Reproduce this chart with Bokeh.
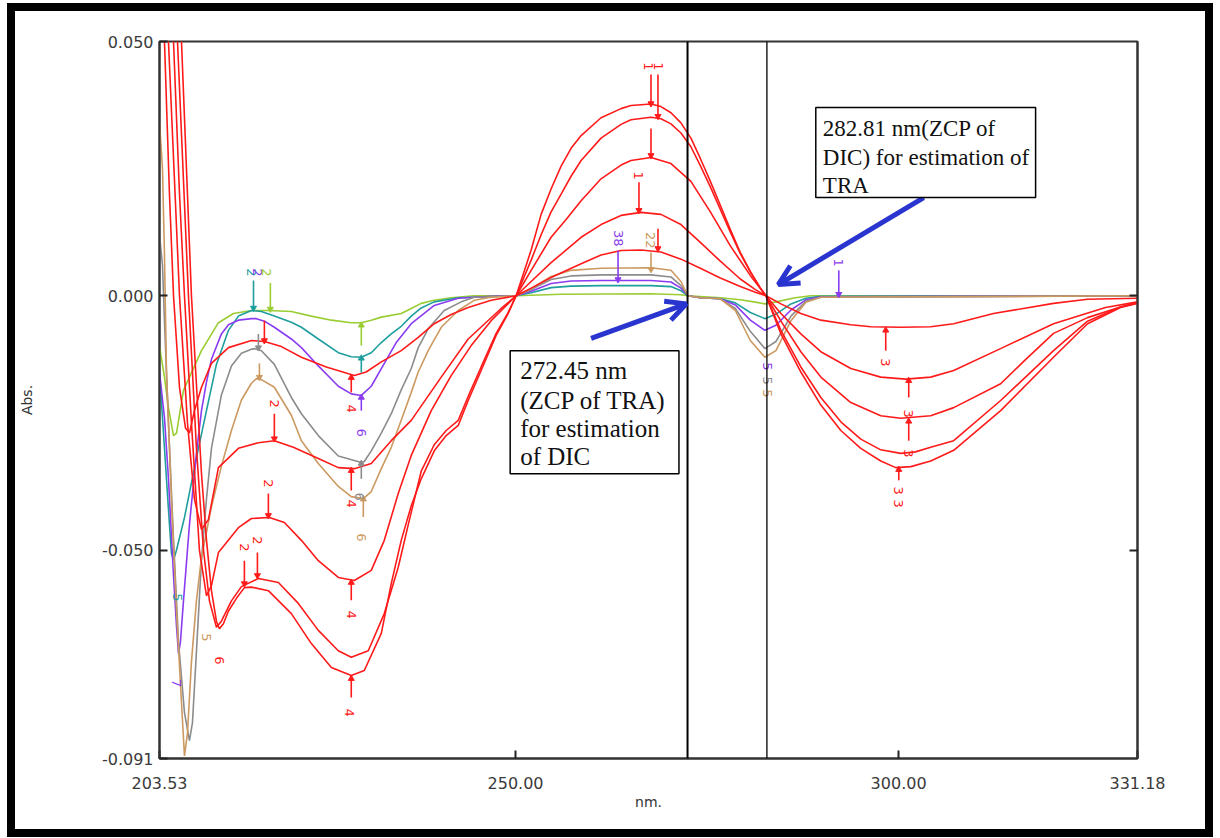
import math
from bokeh.plotting import figure
from bokeh.models import (Range1d, FixedTicker, PrintfTickFormatter, LinearAxis, Span,
                          BoxAnnotation, Label, Arrow, OpenHead)
from bokeh.core.properties import value
from bokeh.embed import file_html
from bokeh.resources import INLINE

# ---------------- data (wavelength nm, absorbance) ----------------
x_ticks = [203.53, 250.00, 300.00, 331.18]
y_ticks = [-0.091, -0.050, 0.000, 0.050]
zcp_tra = 272.45
zcp_dic = 282.81

tan_curve = [(203.53, 0.034), (203.92, 0.025), (204.18, 0.008), (204.44, -0.015), (205.09, -0.040),
             (205.75, -0.062), (206.40, -0.080), (206.79, -0.0905), (207.18, -0.086), (207.70, -0.072),
             (208.35, -0.060), (209.01, -0.0515), (210.31, -0.0415), (211.61, -0.0335), (212.92, -0.0265),
             (214.22, -0.0205), (215.53, -0.0172), (216.18, -0.0163), (216.83, -0.0165), (218.52, -0.0180),
             (220.74, -0.0235), (222.05, -0.0285), (224.26, -0.0330), (226.87, -0.0375), (228.56, -0.0395),
             (230.13, -0.0399), (231.17, -0.0385), (232.48, -0.0340), (233.78, -0.0298), (235.08, -0.0245),
             (236.39, -0.0190), (237.30, -0.0150), (238.60, -0.0108), (240.30, -0.0062), (242.52, -0.0029),
             (244.60, -0.0009), (246.82, -0.0003), (250.08, 0.0), (252.04, 0.0014), (254.64, 0.0038),
             (257.25, 0.0050), (261.16, 0.0054), (267.68, 0.0055), (270.29, 0.0050), (271.59, 0.0028),
             (272.50, 0.0), (274.12, -0.0004), (276.73, -0.0006), (278.69, -0.0029), (280.64, -0.0088),
             (282.55, -0.0121), (283.99, -0.0108), (285.95, -0.0049), (287.90, -0.0013), (289.85, -0.0003),
             (331.18, 0.0)]

grey_curve = [(203.53, 0.012), (203.92, 0.006), (204.18, -0.005), (204.70, -0.025), (205.36, -0.048),
              (206.01, -0.068), (206.79, -0.082), (207.44, -0.0875), (207.83, -0.084), (208.35, -0.070),
              (209.01, -0.052), (209.66, -0.040), (210.31, -0.030), (211.61, -0.0195), (212.92, -0.0138),
              (214.22, -0.0113), (215.53, -0.0105), (216.00, -0.0104), (216.83, -0.0108), (218.52, -0.0135),
              (220.74, -0.0200), (222.05, -0.0232), (224.26, -0.0275), (226.87, -0.0315), (229.87, -0.0328),
              (230.26, -0.0326), (231.17, -0.0305), (232.48, -0.0270), (233.78, -0.0232), (235.08, -0.0185),
              (236.39, -0.0143), (237.30, -0.0102), (238.60, -0.0065), (240.69, -0.0029), (242.91, -0.0012),
              (244.60, -0.0003), (250.08, 0.0), (252.04, 0.0012), (254.64, 0.0032), (257.25, 0.0039),
              (261.16, 0.0041), (267.68, 0.0041), (270.29, 0.0037), (271.59, 0.0020), (272.50, 0.0),
              (274.12, -0.0004), (276.73, -0.0006), (278.69, -0.0025), (280.64, -0.0070), (282.55, -0.0104),
              (283.99, -0.0090), (285.95, -0.0040), (287.90, -0.0011), (289.85, -0.0003), (331.18, 0.0)]

purple_curve = [(203.53, -0.015), (204.18, -0.024), (204.70, -0.036), (205.36, -0.055), (205.75, -0.065),
                (206.01, -0.0704), (206.27, -0.068), (206.66, -0.060), (207.44, -0.045), (208.35, -0.031),
                (209.01, -0.0226), (209.66, -0.0170), (210.31, -0.0125), (211.61, -0.0075), (212.53, -0.0057),
                (213.83, -0.0048), (215.53, -0.0045), (216.18, -0.0045), (217.22, -0.0050), (218.52, -0.0062),
                (220.74, -0.0085), (222.05, -0.0102), (224.26, -0.0138), (226.87, -0.0178), (228.56, -0.0193),
                (229.87, -0.0196), (231.17, -0.0178), (232.87, -0.0133), (234.43, -0.0092), (236.39, -0.0055),
                (239.39, -0.0019), (242.52, -0.0005), (246.82, -0.0001), (250.08, 0.0), (252.04, 0.0009),
                (254.64, 0.0024), (257.25, 0.0029), (261.16, 0.0030), (267.68, 0.0030), (270.29, 0.0027),
                (271.59, 0.0015), (272.50, 0.0), (274.12, -0.0004), (276.73, -0.0006), (278.69, -0.0018),
                (280.64, -0.0048), (282.55, -0.0068), (283.99, -0.0058), (285.95, -0.0028), (287.90, -0.0008),
                (289.85, -0.0002), (331.18, 0.0)]

teal_curve = [(203.53, -0.015), (204.18, -0.030), (204.70, -0.042), (205.09, -0.0507), (205.36, -0.0520),
              (205.75, -0.0500), (206.79, -0.0436), (208.61, -0.0300), (209.66, -0.0226), (210.96, -0.0135),
              (212.53, -0.0068), (213.83, -0.0040), (215.53, -0.0029), (216.83, -0.0031), (218.52, -0.0040),
              (220.74, -0.0052), (222.05, -0.0062), (224.26, -0.0085), (226.87, -0.0112), (228.56, -0.0120),
              (229.87, -0.0121), (231.17, -0.0112), (232.48, -0.0092), (233.78, -0.0075), (235.08, -0.0060),
              (236.39, -0.0040), (237.69, -0.0024), (239.39, -0.0012), (242.52, -0.0004), (250.08, 0.0),
              (252.04, 0.0006), (254.64, 0.0016), (257.25, 0.0019), (261.16, 0.0020), (267.68, 0.0020),
              (270.29, 0.0018), (271.59, 0.0010), (272.50, 0.0), (274.12, -0.0004), (276.73, -0.0006),
              (278.69, -0.0014), (280.64, -0.0033), (282.55, -0.0045), (283.99, -0.0036), (285.95, -0.0016),
              (287.90, -0.0005), (289.85, -0.0001), (331.18, 0.0)]

green_curve = [(203.53, -0.010), (204.18, -0.016), (204.70, -0.022), (205.36, -0.0275), (205.75, -0.0270),
               (206.66, -0.0186), (209.01, -0.0108), (211.22, -0.0053), (213.18, -0.0035), (215.53, -0.0029),
               (217.74, -0.0029), (220.74, -0.0031), (223.35, -0.0040), (225.96, -0.0048), (228.56, -0.0053),
               (229.87, -0.0053), (231.17, -0.0048), (232.48, -0.0042), (235.08, -0.0035), (236.39, -0.0025),
               (237.69, -0.0015), (239.39, -0.0009), (241.60, -0.0004), (244.60, 0.0), (250.08, 0.0),
               (252.04, 0.0001), (256.00, 0.0003), (267.68, 0.0004), (271.59, 0.0002), (272.50, 0.0),
               (276.73, -0.0004), (279.34, -0.0008), (281.50, -0.0013), (282.55, -0.0016), (284.00, -0.0012),
               (286.50, -0.0004), (288.55, 0.0), (331.18, 0.0)]

red_1 = [(203.53, 0.16), (205.09, 0.10), (206.40, 0.05), (207.70, 0.0), (209.01, -0.035), (209.66, -0.048),
         (210.31, -0.058), (210.96, -0.064), (211.35, -0.0655), (211.87, -0.0645), (212.53, -0.0620),
         (213.57, -0.0595), (214.61, -0.0574), (215.53, -0.0573), (217.74, -0.0580), (220.74, -0.0625),
         (223.35, -0.0684), (225.96, -0.0731), (228.56, -0.0747), (230.26, -0.0737), (232.48, -0.0664),
         (233.78, -0.0566), (235.08, -0.0481), (236.39, -0.0413), (237.69, -0.0360), (239.39, -0.0305),
         (240.95, -0.0275), (242.52, -0.0255), (243.82, -0.0206), (245.51, -0.0147), (247.47, -0.0078),
         (249.03, -0.0035), (250.08, 0.0), (252.04, 0.0090), (253.34, 0.0160), (254.64, 0.0210),
         (255.95, 0.0255), (257.25, 0.0290), (258.56, 0.0315), (261.16, 0.0350), (263.77, 0.0368),
         (265.07, 0.0374), (267.68, 0.0377), (268.98, 0.0372), (270.29, 0.0360), (271.59, 0.0340),
         (272.89, 0.0310), (274.12, 0.0270), (275.43, 0.0225), (276.73, 0.0178), (278.04, 0.0130),
         (279.34, 0.0085), (280.64, 0.0048), (281.95, 0.0015), (282.68, 0.0), (284.64, -0.0075),
         (287.24, -0.0150), (289.85, -0.0215), (292.46, -0.0265), (295.06, -0.0300), (297.67, -0.0325),
         (299.63, -0.0338), (301.60, -0.0336), (304.19, -0.0325), (307.19, -0.0304), (313.32, -0.0226),
         (320.22, -0.0121), (324.66, -0.0055), (328.96, -0.0023), (331.18, -0.0015)]

red_2 = [(203.53, 0.14), (204.83, 0.10), (205.88, 0.05), (207.31, 0.0), (208.35, -0.030), (209.27, -0.050),
         (210.05, -0.060), (210.96, -0.0652), (211.61, -0.0640), (212.92, -0.0600), (214.22, -0.0572),
         (216.44, -0.0556), (219.05, -0.0564), (221.65, -0.0605), (224.26, -0.0658), (226.87, -0.0698),
         (228.56, -0.0711), (230.78, -0.0698), (232.87, -0.0625), (234.69, -0.0534), (236.00, -0.0450),
         (237.69, -0.0345), (239.39, -0.0293), (240.95, -0.0265), (242.52, -0.0245), (243.82, -0.0198),
         (245.51, -0.0140), (247.47, -0.0074), (249.03, -0.0033), (250.08, 0.0), (252.04, 0.0070),
         (253.34, 0.0120), (254.64, 0.0165), (255.95, 0.0200), (257.25, 0.0235), (258.56, 0.0266),
         (261.16, 0.0310), (263.77, 0.0337), (265.07, 0.0346), (267.68, 0.0351), (268.98, 0.0348),
         (270.29, 0.0338), (271.59, 0.0320), (272.89, 0.0293), (274.12, 0.0256), (275.43, 0.0214),
         (276.73, 0.0170), (278.04, 0.0125), (279.34, 0.0083), (280.64, 0.0047), (281.95, 0.0015),
         (282.68, 0.0), (284.64, -0.0068), (287.24, -0.0140), (289.85, -0.0200), (292.46, -0.0248),
         (295.06, -0.0282), (297.67, -0.0303), (300.28, -0.0310), (302.20, -0.0307), (304.19, -0.0298),
         (307.19, -0.0285), (313.32, -0.0206), (320.22, -0.0108), (324.66, -0.0050), (328.96, -0.0022),
         (331.18, -0.0014)]

red_3 = [(203.53, 0.12), (204.57, 0.08), (205.36, 0.05), (206.14, 0.02), (206.79, 0.0), (207.70, -0.025),
         (208.74, -0.050), (209.66, -0.059), (210.31, -0.057), (211.22, -0.0505), (213.83, -0.0456),
         (215.53, -0.0438), (217.87, -0.0436), (219.83, -0.0446), (222.05, -0.0481), (224.26, -0.0521),
         (226.87, -0.0554), (228.96, -0.0560), (231.17, -0.0540), (232.87, -0.0481), (234.69, -0.0389),
         (236.39, -0.0314), (239.00, -0.0226), (241.60, -0.0157), (244.21, -0.0098), (246.82, -0.0049),
         (250.08, 0.0), (252.04, 0.0050), (254.64, 0.0115), (256.60, 0.0150), (258.56, 0.0187),
         (261.16, 0.0230), (263.77, 0.0257), (265.07, 0.0266), (267.68, 0.0272), (270.29, 0.0260),
         (272.89, 0.0225), (275.43, 0.0165), (278.04, 0.0098), (280.64, 0.0040), (282.68, 0.0),
         (284.64, -0.0050), (287.24, -0.0110), (289.85, -0.0160), (293.76, -0.0210), (297.67, -0.0236),
         (300.28, -0.0241), (304.19, -0.0236), (307.19, -0.0220), (313.32, -0.0173), (316.60, -0.0125),
         (320.22, -0.0074), (324.66, -0.0043), (328.96, -0.0022), (331.18, -0.0013)]

red_4 = [(203.53, 0.10), (204.70, 0.05), (206.14, 0.0), (207.18, -0.025), (208.09, -0.040), (209.01, -0.046),
         (209.92, -0.044), (211.22, -0.0338), (213.83, -0.0300), (216.44, -0.0289), (218.52, -0.0285),
         (221.00, -0.0298), (224.26, -0.0320), (226.87, -0.0338), (228.96, -0.0340), (231.17, -0.0330),
         (233.78, -0.0285), (236.39, -0.0245), (240.30, -0.0160), (243.82, -0.0085), (248.12, -0.0025),
         (250.08, 0.0), (252.04, 0.0028), (254.64, 0.0065), (258.56, 0.0115), (261.16, 0.0140),
         (263.77, 0.0158), (266.38, 0.0164), (268.98, 0.0160), (271.59, 0.0140), (274.12, 0.0105),
         (276.73, 0.0068), (279.34, 0.0033), (281.30, 0.0012), (282.68, 0.0), (284.64, -0.0035),
         (287.24, -0.0075), (289.85, -0.0110), (293.76, -0.0143), (297.67, -0.0160), (300.94, -0.0164),
         (304.19, -0.0160), (307.19, -0.0147), (313.58, -0.0102), (320.22, -0.0055), (327.00, -0.0023),
         (331.18, -0.0012)]

red_5 = [(203.53, 0.075), (204.18, 0.05), (204.83, 0.02), (205.36, 0.0), (206.14, -0.018), (206.92, -0.026),
         (207.44, -0.027), (208.09, -0.0226), (209.01, -0.0180), (210.31, -0.0133), (212.53, -0.0102),
         (215.53, -0.0088), (217.22, -0.0090), (219.44, -0.0100), (222.05, -0.0121), (225.30, -0.0140),
         (228.96, -0.0157), (230.50, -0.0150), (232.48, -0.0130), (235.08, -0.0108), (237.30, -0.0082),
         (239.39, -0.0055), (241.60, -0.0037), (243.82, -0.0023), (246.82, -0.0009), (250.08, 0.0),
         (252.04, 0.0015), (254.64, 0.0036), (258.56, 0.0063), (261.16, 0.0080), (263.77, 0.0089),
         (266.38, 0.0090), (268.98, 0.0086), (271.59, 0.0072), (274.12, 0.0054), (276.73, 0.0035),
         (279.34, 0.0018), (281.30, 0.0007), (282.68, 0.0), (284.64, -0.0016), (287.24, -0.0035),
         (289.85, -0.0048), (293.76, -0.0057), (296.37, -0.0061), (300.28, -0.0062), (304.19, -0.0061),
         (307.19, -0.0055), (312.38, -0.0035), (320.22, -0.0015), (324.66, -0.0007), (331.18, -0.0005)]

RED = "#ff1a1a"
GREEN = "#9acd32"
TEAL = "#1f9e9e"
PURPLE = "#8a3cf0"
GREY = "#8c8c8c"
TAN = "#cc9960"

other_series = [(green_curve, GREEN), (teal_curve, TEAL), (purple_curve, PURPLE),
                (grey_curve, GREY), (tan_curve, TAN)]
red_series = [red_5, red_4, red_3, red_2, red_1]

# peak-pick pointers: wavelength, start, tip, colour
pointer_wl = [267.68, 268.59, 267.68, 266.11, 268.59, 263.38, 267.68, 292.19,
              298.32, 301.32, 301.32, 300.02,
              228.56, 228.56, 228.56, 228.56,
              218.52, 217.74, 216.31, 214.61, 217.22,
              215.80, 218.00, 216.44, 216.57,
              229.87, 229.87, 229.87, 229.87, 230.13]
pointer_from = [0.0435, 0.0435, 0.0329, 0.0223, 0.0132, 0.0089, 0.0085, 0.0050,
                -0.0108, -0.0200, -0.0285, -0.0363,
                -0.0790, -0.0599, -0.0383, -0.0190,
                -0.0232, -0.0389, -0.0505, -0.0521, -0.0049,
                0.0030, 0.0025, -0.0075, -0.0133,
                -0.0098, -0.0151, -0.0226, -0.0360, -0.0435]
pointer_tip = [0.0378, 0.0353, 0.0276, 0.0168, 0.0093, 0.0032, 0.0052, 0.0003,
               -0.0068, -0.0167, -0.0247, -0.0342,
               -0.0753, -0.0564, -0.0344, -0.0161,
               -0.0281, -0.0432, -0.0550, -0.0566, -0.0088,
               -0.0024, -0.0026, -0.0102, -0.0160,
               -0.0058, -0.0123, -0.0200, -0.0330, -0.0400]
pointer_col = [RED, RED, RED, RED, RED, PURPLE, TAN, PURPLE,
               RED, RED, RED, RED,
               RED, RED, RED, RED,
               RED, RED, RED, RED, RED,
               TEAL, GREEN, GREY, TAN,
               GREEN, TEAL, PURPLE, GREY, TAN]

# peak-pick numbers: wavelength, absorbance, text, colour
tag_wl = [267.30, 268.70, 266.11, 263.38, 267.68, 292.19,
          298.32, 301.32, 301.32, 300.02, 300.02,
          228.30, 228.56, 228.56, 228.56,
          218.52, 217.74, 216.31, 214.61,
          215.53, 216.30, 217.50,
          229.87, 229.60, 229.87,
          282.94, 282.94, 282.94,
          205.75, 205.88, 211.35, 209.66]
tag_abs = [0.0451, 0.0451, 0.0236, 0.0113, 0.0109, 0.0065,
           -0.0131, -0.0232, -0.0310, -0.0383, -0.0409,
           -0.0820, -0.0627, -0.0409, -0.0222,
           -0.0212, -0.0369, -0.0481, -0.0495,
           0.0046, 0.0046, 0.0046,
           -0.0269, -0.0395, -0.0475,
           -0.0139, -0.0167, -0.0192,
           -0.0762, -0.0593, -0.0717, -0.0672]
tag_text = ["1", "1", "1", "38", "22", "1",
            "3", "3", "3", "3", "3",
            "4", "4", "4", "4",
            "2", "2", "2", "2",
            "2", "2", "2",
            "6", "6", "6",
            "5", "5", "5",
            "7", "5", "6", "5"]
tag_col = [RED, RED, RED, PURPLE, TAN, PURPLE,
           RED, RED, RED, RED, RED,
           RED, RED, RED, RED,
           RED, RED, RED, RED,
           TEAL, PURPLE, GREEN,
           PURPLE, GREY, TAN,
           PURPLE, GREY, TAN,
           PURPLE, TEAL, RED, TAN]

# ---------------- figure ----------------
p = figure(width=1190, height=818,
           x_range=Range1d(203.53, 331.18), y_range=Range1d(-0.091, 0.050),
           output_backend="svg", toolbar_location=None,
           min_border_left=143, min_border_right=84, min_border_top=30, min_border_bottom=87,
           background_fill_color="white", border_fill_color="white")
p.styles = {"border": "8px solid black", "box-sizing": "content-box", "overflow": "hidden",
            "margin-left": "7px", "margin-top": "3px"}
p.grid.visible = False
p.outline_line_color = "#333333"
p.outline_line_width = 2

for axis in (p.xaxis[0], p.yaxis[0]):
    axis.major_tick_in = 8
    axis.major_tick_out = 0
    axis.minor_tick_line_color = None
    axis.axis_line_color = "#333333"
    axis.axis_line_width = 2
    axis.major_tick_line_color = "#222222"
    axis.major_tick_line_width = 2
    axis.major_label_text_font = "DejaVu Sans"
    axis.major_label_text_font_size = "16px"
    axis.major_label_text_color = "#3a3a3a"
    axis.axis_label_text_font = "DejaVu Sans"
    axis.axis_label_text_font_size = "14px"
    axis.axis_label_text_font_style = "normal"
    axis.axis_label_text_color = "#333333"

p.xaxis.ticker = FixedTicker(ticks=x_ticks)
p.xaxis.formatter = PrintfTickFormatter(format="%.2f")
p.xaxis.major_label_standoff = 18
p.xaxis.axis_label = "nm."
p.xaxis.axis_label_standoff = 2

p.yaxis.ticker = FixedTicker(ticks=y_ticks)
p.yaxis.formatter = PrintfTickFormatter(format="%.3f")
p.yaxis.major_label_standoff = 6
p.yaxis.axis_label = "Abs."
p.yaxis.axis_label_standoff = 64

right_axis = LinearAxis(ticker=FixedTicker(ticks=[-0.05, 0.0]), major_tick_in=8, major_tick_out=0,
                        minor_tick_line_color=None, major_label_text_alpha=0,
                        axis_line_color="#333333", axis_line_width=2,
                        major_tick_line_color="#222222", major_tick_line_width=2)
p.add_layout(right_axis, "right")

# curves
for data, col in other_series:
    p.line([d[0] for d in data], [d[1] for d in data], line_color=col, line_width=1.6)
for data in red_series:
    p.line([d[0] for d in data], [d[1] for d in data], line_color=RED, line_width=1.6)

# peak-pick pointers and numbers
p.segment(x0=pointer_wl, y0=pointer_from, x1=pointer_wl, y1=pointer_tip,
          line_color=pointer_col, line_width=1.6)
up = [t > f for f, t in zip(pointer_from, pointer_tip)]
p.scatter(x=[w for w, u in zip(pointer_wl, up) if u], y=[t for t, u in zip(pointer_tip, up) if u],
          marker="triangle", size=6,
          color=[c for c, u in zip(pointer_col, up) if u])
p.scatter(x=[w for w, u in zip(pointer_wl, up) if not u], y=[t for t, u in zip(pointer_tip, up) if not u],
          marker="inverted_triangle", size=6,
          color=[c for c, u in zip(pointer_col, up) if not u])
p.text(x=tag_wl, y=tag_abs, text=tag_text, text_color=tag_col, angle=-math.pi / 2,
       text_font=value("DejaVu Sans"), text_font_size="13px",
       text_align="center", text_baseline="middle")

# zero-crossing markers
p.add_layout(Span(location=zcp_tra, dimension="height", line_color="black", line_width=2))
p.add_layout(Span(location=zcp_dic, dimension="height", line_color="black", line_width=1.3))

# annotation boxes
for l, r, t, b in [(249.30, 271.33, -0.0108, -0.0350), (289.19, 317.88, 0.0370, 0.0193)]:
    p.add_layout(BoxAnnotation(left=l, right=r, top=t, bottom=b,
                               fill_color="white", fill_alpha=1.0,
                               line_color="black", line_alpha=1.0, line_width=1.5,
                               level="overlay"))

box1_lines = ["272.45 nm", "(ZCP of TRA)", "for estimation", "of DIC"]
box1_y = [-0.0147, -0.0206, -0.0261, -0.0316]
for t, yy in zip(box1_lines, box1_y):
    p.add_layout(Label(x=250.60, y=yy, text=t, text_font="Liberation Serif", text_font_size="25px",
                       text_baseline="middle", text_color="#111111", level="overlay"))

box2_lines = ["282.81 nm(ZCP of", "DIC) for estimation of", "TRA"]
box2_y = [0.0329, 0.0272, 0.0217]
for t, yy in zip(box2_lines, box2_y):
    p.add_layout(Label(x=290.11, y=yy, text=t, text_font="Liberation Serif", text_font_size="23px",
                       text_baseline="middle", text_color="#111111", level="overlay"))

# blue arrows
BLUE = "#2a35d0"
p.add_layout(Arrow(end=OpenHead(line_color=BLUE, line_width=5, size=20),
                   x_start=259.86, y_start=-0.0084, x_end=272.30, y_end=-0.0016,
                   line_color=BLUE, line_width=5))
p.add_layout(Arrow(end=OpenHead(line_color=BLUE, line_width=5, size=20),
                   x_start=303.28, y_start=0.0193, x_end=284.30, y_end=0.0022,
                   line_color=BLUE, line_width=5))

open("out.html", "w").write(file_html(p, INLINE))
